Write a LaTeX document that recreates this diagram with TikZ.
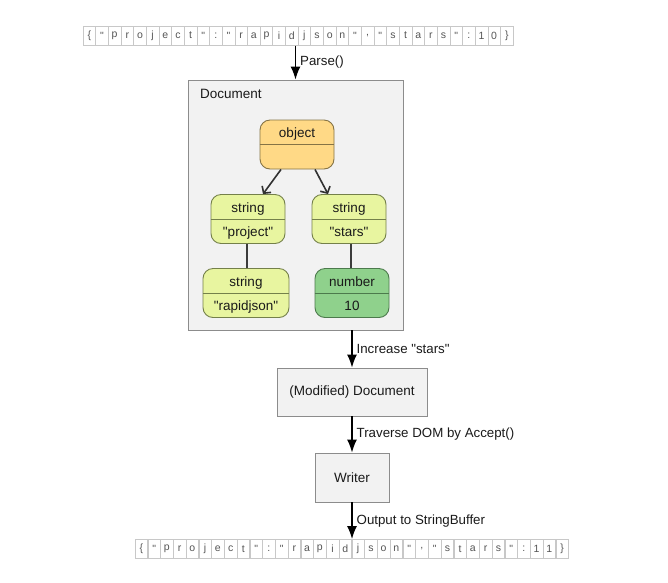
\documentclass[tikz,border=0pt]{standalone}
\usepackage{fontspec}
\setmainfont{Liberation Sans}
\usetikzlibrary{arrows.meta,fit}
\newcommand\qq{\textquotedbl}
\definecolor{objfill}{HTML}{FFD986}
\definecolor{objdraw}{HTML}{857345}
\definecolor{strfill}{HTML}{E8F5A0}
\definecolor{strdraw}{HTML}{74804A}
\definecolor{numfill}{HTML}{8FD18C}
\definecolor{numdraw}{HTML}{4C7A4C}
\definecolor{boxfill}{HTML}{F2F2F2}
\definecolor{boxdraw}{HTML}{8C8C8C}
\definecolor{celldraw}{HTML}{C8C8C8}
\definecolor{celltext}{HTML}{555555}
\definecolor{txt}{HTML}{1A1A1A}
\tikzset{
  cell/.style={draw=celldraw, line width=0.6pt, minimum width=12.65pt, minimum height=19pt,
    inner sep=0pt, text=celltext, font=\fontsize{10.5}{12}\selectfont},
  rowbox/.style={inner sep=0pt, draw=none},
  plainbox/.style={draw=boxdraw, fill=boxfill, line width=0.9pt, inner sep=0pt},
  valnode/.style={rounded corners=10pt, line width=0.9pt, inner sep=0pt,
    minimum width=74pt, minimum height=49pt},
  objnode/.style={valnode, draw=objdraw, fill=objfill},
  strnode/.style={valnode, draw=strdraw, fill=strfill},
  numnode/.style={valnode, draw=numdraw, fill=numfill},
  ntext/.style={inner sep=0pt, text=txt, font=\fontsize{13.5}{15}\selectfont},
  vtext/.style={ntext, anchor=base, yshift=-5pt},
  flow/.style={line width=1.3pt, -{Latex[length=13pt,width=10pt]}},
  tree/.style={line width=1.6pt, draw=txt!90, -{Straight Barb[length=5pt,width=11pt]}},
  link/.style={line width=1.2pt, draw=txt!85},
  lbl/.style={anchor=west, inner sep=1pt, xshift=3pt, text=txt, font=\fontsize{13.3}{15}\selectfont},
}
\begin{document}
\begin{tikzpicture}[x=1pt,y=-1pt]
\useasboundingbox (0,0) rectangle (668,582);
% source JSON row
\foreach \ch [count=\i] in {\{,\qq,p,r,o,j,e,c,t,\qq,:,\qq,r,a,p,i,d,j,s,o,n,\qq,{,},\qq,s,t,a,r,s,\qq,:,1,0,\}}
  \node[cell] (t\i) at ({83+12.65*(\i-0.5)}, 35.5) {\ch};
\node[rowbox, fit=(t1)(t34)] (src) {};
% result JSON row
\foreach \ch [count=\i] in {\{,\qq,p,r,o,j,e,c,t,\qq,:,\qq,r,a,p,i,d,j,s,o,n,\qq,{,},\qq,s,t,a,r,s,\qq,:,1,1,\}}
  \node[cell] (b\i) at ({135+12.75*(\i-0.5)}, 549) {\ch};
\node[rowbox, fit=(b1)(b34)] (dst) {};
% Document box
\node[plainbox, minimum width=215pt, minimum height=250pt] (doc) at (295.5,205) {};
\node[ntext, anchor=west] (doclbl) at (200,93.5) {Document};
% value nodes
\node[objnode] (obj) at (297,144.5) {};
\draw[objdraw, line width=0.9pt] (obj.west) -- (obj.east);
\node[vtext] (objt) at (297,132.5) {object};
\node[strnode] (sp) at (248,219) {};
\draw[strdraw, line width=0.9pt] (sp.west) -- (sp.east);
\node[vtext] (spt) at (248,207) {string};
\node[vtext] (spv) at (248,231) {\qq project\qq};
\node[strnode] (ss) at (349,219) {};
\draw[strdraw, line width=0.9pt] (ss.west) -- (ss.east);
\node[vtext] (sst) at (349,207) {string};
\node[vtext] (ssv) at (349,231) {\qq stars\qq};
\node[strnode, minimum width=86pt] (sr) at (246,293) {};
\draw[strdraw, line width=0.9pt] (sr.west) -- (sr.east);
\node[vtext] (srt) at (246,281) {string};
\node[vtext] (srv) at (246,305) {\qq rapidjson\qq};
\node[numnode] (num) at (352,293) {};
\draw[numdraw, line width=0.9pt] (num.west) -- (num.east);
\node[vtext] (numt) at (352,281) {number};
\node[vtext] (numv) at (352,305) {10};
% tree edges
\draw[tree] ([xshift=-16pt]obj.south) -- ([xshift=15pt]sp.north);
\draw[tree] ([xshift=18pt]obj.south) -- ([xshift=-21pt]ss.north);
\draw[link] ([xshift=-1pt]sp.south) -- ([xshift=1pt]sr.north);
\draw[link] ([xshift=2pt]ss.south) -- ([xshift=-1pt]num.north);
% lower boxes
\node[plainbox, minimum width=150pt, minimum height=48pt, ntext] (mod) at (352,392) {(Modified) Document};
\node[plainbox, minimum width=74pt, minimum height=49pt, ntext] (wr) at (352,477.5) {Writer};
% flow arrows
\draw[flow] (doc.north |- src.south) -- node[lbl] {Parse()} (doc.north);
\draw[flow] (mod.north |- doc.south) -- node[lbl] {Increase \qq stars\qq} (mod.north);
\draw[flow] (mod.south) -- node[lbl] {Traverse DOM by Accept()} (wr.north);
\draw[flow] (wr.south) -- node[lbl] {Output to StringBuffer} (wr.south |- dst.north);
\end{tikzpicture}
\end{document}
